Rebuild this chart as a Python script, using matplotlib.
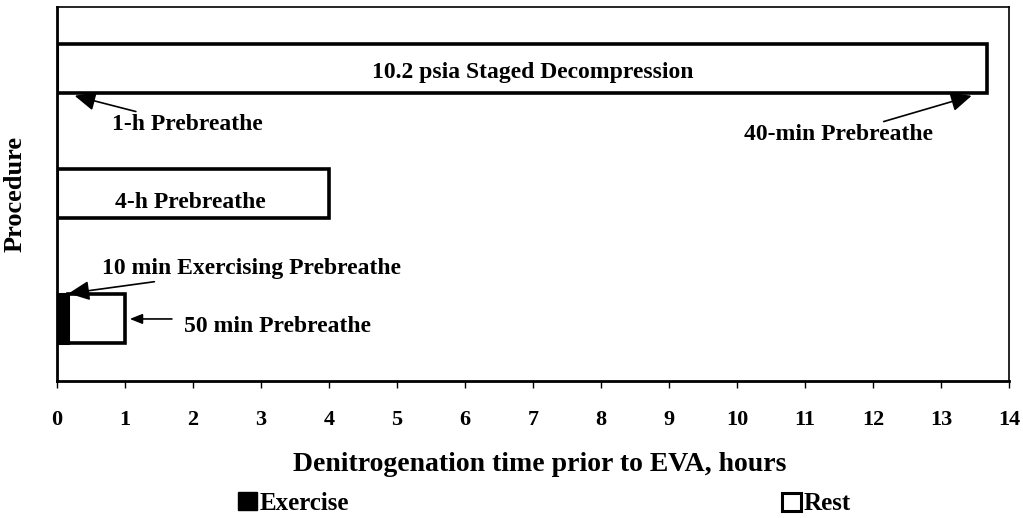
import matplotlib
matplotlib.use("Agg")
import matplotlib.pyplot as plt
from matplotlib.patches import Patch

# ---- data ----
procedures = ["Exercise + 50 min", "4-h Prebreathe", "10.2 psia Staged Decompression"]
exercise_hours = [10 / 60, 0.0, 0.0]
rest_hours = [50 / 60, 4.0, 13.67]
xticks = list(range(0, 15))

plt.rcParams['font.family'] = ['Liberation Serif', 'DejaVu Serif']
plt.rcParams['font.weight'] = 'bold'

fig = plt.figure(figsize=(10.23, 5.18), dpi=100)
ax = fig.add_axes([57 / 1023, 1 - 381 / 518, (1009 - 57) / 1023, (381 - 7) / 518])

ypos = [1, 2, 3]
h = 0.39
ax.barh(ypos, rest_hours, left=exercise_hours, height=h, color='white', edgecolor='black',
        linewidth=2.6, zorder=3)
ax.barh(ypos, exercise_hours, height=h, color='black', edgecolor='black', linewidth=2.2, zorder=4)

ax.set_xlim(0, 14)
ax.set_ylim(0.5, 3.49)
ax.set_xticks(xticks)
ax.set_xticklabels([str(t) for t in xticks], fontsize=16, fontweight='bold')
ax.set_yticks([])
ax.tick_params(axis='x', direction='out', length=5, width=1, pad=16)
for s in ax.spines.values():
    s.set_linewidth(1.2)
ax.spines['left'].set_linewidth(2)
ax.spines['bottom'].set_linewidth(2)

ax.set_xlabel("Denitrogenation time prior to EVA, hours", fontsize=20, fontweight='bold')
ax.xaxis.set_label_coords(0.507, -0.19)
ax.set_ylabel("Procedure", fontsize=19, fontweight='bold', labelpad=22)

fs = 17
ax.text(7.0, 2.97, procedures[2], ha='center', va='center', fontsize=fs, fontweight='bold')
ax.text(1.96, 1.924, procedures[1], ha='center', va='center', fontsize=fs, fontweight='bold')

arrowkw = dict(arrowstyle='-|>,head_length=0.75,head_width=0.35', color='black', lw=1.2,
               shrinkA=0, shrinkB=0)
ax.annotate("1-h Prebreathe", xy=(0.26, 2.78), xytext=(0.81, 2.548), ha='left', va='center',
            fontsize=fs, fontweight='bold', arrowprops=arrowkw)
ax.annotate("40-min Prebreathe", xy=(13.45, 2.78), xytext=(12.88, 2.468), ha='right', va='center',
            fontsize=fs, fontweight='bold', arrowprops=arrowkw)
ax.annotate("10 min Exercising Prebreathe", xy=(0.17, 1.2), xytext=(0.66, 1.4), ha='left',
            va='center', fontsize=fs, fontweight='bold', arrowprops=arrowkw)
ax.annotate("", xy=(1.07, 0.996), xytext=(1.69, 0.996),
            arrowprops=dict(arrowstyle='-|>,head_length=0.75,head_width=0.3',
                            color='black', lw=1.2, shrinkA=0, shrinkB=0))
ax.text(1.87, 0.935, "50 min Prebreathe", ha='left', va='center', fontsize=fs, fontweight='bold')

# legend
h1 = Patch(facecolor='black', edgecolor='black')
h2 = Patch(facecolor='white', edgecolor='black', linewidth=2.2)
fig.legend([h1], ["Exercise"], loc='center left', bbox_to_anchor=(238 / 1023, 1 - 503 / 518),
           frameon=False, fontsize=18, handlelength=0.75, handleheight=0.75, handletextpad=0.1,
           borderpad=0, borderaxespad=0)
fig.legend([h2], ["Rest"], loc='center left', bbox_to_anchor=(782 / 1023, 1 - 504 / 518),
           frameon=False, fontsize=18, handlelength=0.75, handleheight=0.75, handletextpad=0.1,
           borderpad=0, borderaxespad=0)

fig.savefig("out.png", dpi=100)
